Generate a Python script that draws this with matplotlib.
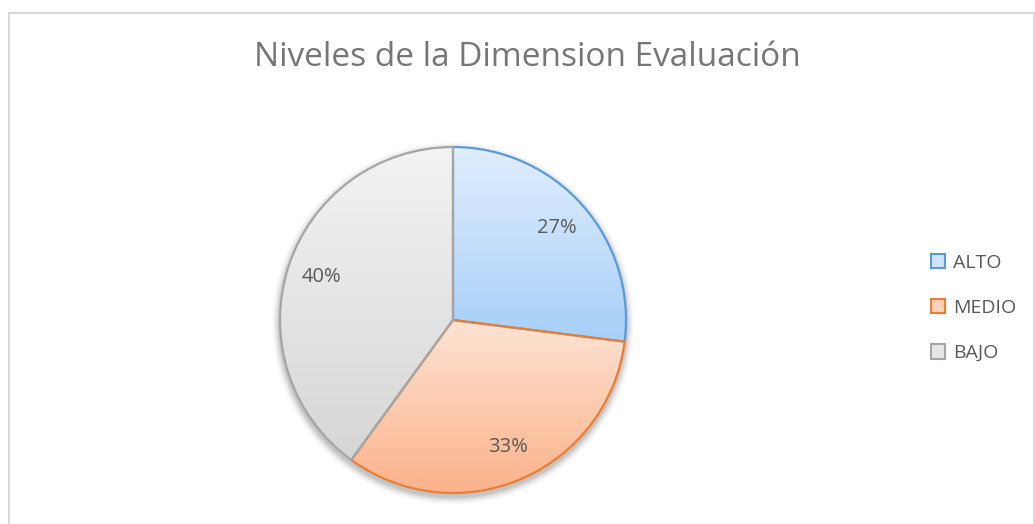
import numpy as np
from matplotlib import pyplot as plt
from matplotlib.patches import Patch, Rectangle, Circle
from matplotlib.colors import LinearSegmentedColormap

# Data
labels = ["ALTO", "MEDIO", "BAJO"]
values = [27, 33, 40]
edge_colors = ["#5b9bd5", "#ed7d31", "#a5a5a5"]
top_colors = ["#e0eefd", "#fde3d4", "#f3f3f3"]
bottom_colors = ["#a6cff9", "#fbb28a", "#d6d6d6"]
legend_colors = ["#cfe4fc", "#fdd0b8", "#e6e6e6"]
title = "Niveles de la Dimension Evaluación"

plt.rcParams['font.family'] = ['Open Sans', 'DejaVu Sans']
text_color = "#595959"

W, H = 1035, 524
fig = plt.figure(figsize=(W / 100, H / 100), dpi=100)

# chart frame
fig.patches.append(Rectangle((9 / W, -0.05), (W - 10) / W, (H - 13) / H + 0.05,
                             transform=fig.transFigure, fill=False,
                             edgecolor="#d9d9d9", linewidth=1.5))

cx, cy, r = 453, 320, 173
pad = 1.1
ax = fig.add_axes([(cx - pad * r) / W, (H - cy - pad * r) / H,
                   2 * pad * r / W, 2 * pad * r / H])

# soft shadow
for i, a in enumerate(np.linspace(0.06, 0.01, 7)):
    ax.add_patch(Circle((0, -0.02), 1 + 0.007 * (i + 1), color="black",
                        alpha=a, zorder=0, linewidth=0))

wedges, _, autotexts = ax.pie(values, startangle=90, counterclock=False,
                              radius=1, autopct="%1.0f%%", pctdistance=0.8,
                              wedgeprops=dict(linewidth=1.6),
                              textprops=dict(color=text_color, fontsize=14.5))
ax.set_xlim(-pad, pad)
ax.set_ylim(-pad, pad)
ax.set_aspect("equal")
ax.axis("off")

grad = np.linspace(0, 1, 256).reshape(-1, 1)
for w, ec, c0, c1 in zip(wedges, edge_colors, top_colors, bottom_colors):
    w.set_facecolor("none")
    w.set_edgecolor(ec)
    w.set_zorder(3)
    bb = w.get_path().get_extents()
    cmap = LinearSegmentedColormap.from_list("g", [c0, c1])
    im = ax.imshow(grad, cmap=cmap, extent=[bb.x0, bb.x1, bb.y0, bb.y1],
                   origin="upper", aspect="auto", zorder=2)
    im.set_clip_path(w)
for t in autotexts:
    t.set_zorder(5)
ax.set_xlim(-pad, pad)
ax.set_ylim(-pad, pad)

fig.text(527 / W, 1 - 58 / H, title, ha="center", va="center",
         fontsize=24, color="#767676")

handles = [Patch(facecolor=c, edgecolor=e, linewidth=1.5)
           for c, e in zip(legend_colors, edge_colors)]
fig.legend(handles, labels, loc="center left", bbox_to_anchor=(913 / W, 1 - 308 / H),
           frameon=False, fontsize=14, labelcolor=text_color,
           handlelength=0.75, handleheight=0.75, handletextpad=0.4,
           labelspacing=1.4)

fig.savefig("out.png", dpi=100)
